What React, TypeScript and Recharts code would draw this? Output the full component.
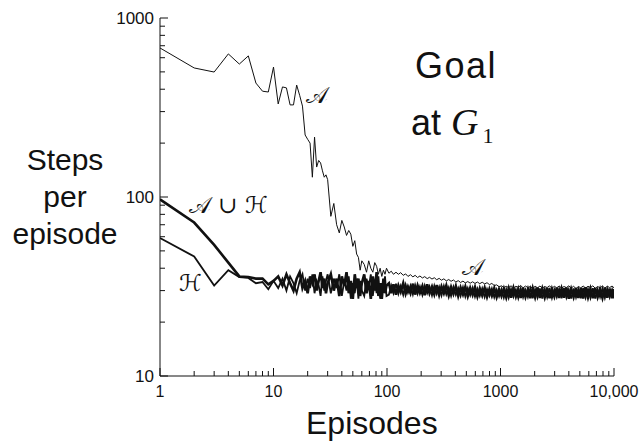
import React from 'react';
import { LineChart, Line, XAxis, YAxis } from 'recharts';

// episode numbers shared by the three curves
const episodes = [
  1, 2, 3, 4, 5, 6, 7, 8, 9, 10,
  11, 12, 13, 14, 15, 16, 17, 18, 19, 20,
  21, 22, 23, 24, 25, 26, 27, 28, 29, 30,
  32, 34, 36, 38, 40, 42, 44, 46, 48, 50, 52, 54, 56, 58, 60,
  63, 66, 69, 72, 75, 78, 81, 84, 87, 90, 93, 96, 99,
  104, 109, 114, 120, 126, 132, 139, 146, 153, 161,
  169, 177, 186, 195, 205, 215, 226, 237, 249, 261,
  274, 288, 302, 317, 333, 350, 367, 385, 404, 424,
  445, 467, 490, 515, 541, 568, 596, 626, 657, 690,
  725, 761, 799, 839, 881, 925, 971, 1020, 1070, 1124,
  1180, 1239, 1301, 1366, 1434, 1506, 1581, 1660, 1743, 1830,
  1922, 2018, 2119, 2225, 2336, 2453, 2576, 2705, 2840, 2982,
  3131, 3288, 3452, 3625, 3806, 3996, 4196, 4406, 4626, 4857,
  5100, 5355, 5623, 5904, 6199, 6509, 6834, 7176, 7535, 7912,
  8308, 8723, 9159, 9617, 10000,
];

// A
const stepsA = [
  680, 526, 499, 630, 553, 614, 433, 390, 386, 532,
  331, 412, 407, 327, 327, 422, 370, 322, 222, 210,
  200, 129, 216, 147, 160, 155, 140, 129, 133, 125,
  78, 92, 70, 63, 74, 68, 61, 65, 62, 53, 57, 48, 46, 39, 44,
  42, 38, 44, 40, 38, 43, 41, 37, 40, 36, 39, 37, 40,
  37.5, 38.5, 37, 38, 37, 37.8, 36.5, 37.2, 36, 36.8,
  35.8, 36.5, 35.5, 36.2, 35.3, 35.9, 35, 35.6, 34.8, 35.4,
  34.5, 35.1, 34.3, 34.9, 34, 34.6, 33.8, 34.4, 33.5, 34.1,
  33.3, 33.9, 33.1, 33.7, 33, 33.6, 32.9, 33.5, 32.8, 33.4,
  32.7, 33.2, 32.4, 32.9, 32, 32.3, 31.5, 31.9, 31.2, 31.7,
  31.2, 31.9, 31.0, 31.7, 31.3, 32.0, 31.1, 31.8, 31.2, 31.6,
  30.9, 31.7, 31.1, 31.8, 31.0, 31.6, 31.2, 31.9, 30.9, 31.7,
  31.1, 31.8, 31.0, 31.6, 31.2, 31.9, 31.0, 31.7, 30.8, 31.6,
  31.1, 31.8, 31.0, 31.7, 31.2, 31.9, 30.9, 31.6, 31.1, 31.8,
  31.0, 31.7, 31.2, 31.8, 31.1,
];

// A u H
const stepsAH = [
  97, 72, 54, 43, 36, 35.7, 35, 35, 32.5, 34,
  36, 32, 37, 33, 30, 35, 38, 31, 34, 29,
  36, 33, 37, 30, 34, 38, 31, 35, 29, 33,
  37, 30, 35, 28, 36, 32, 38, 29, 34, 27, 37, 31, 35, 28, 33,
  37, 29, 34, 27, 36, 30, 38, 28, 33, 27, 35, 29, 32,
  33, 29, 32.5, 28.5, 32, 29.5, 33, 28.8, 31.5, 29,
  32.8, 28.5, 32, 29.2, 31.8, 28.3, 32.5, 29, 31.5, 28.6,
  32.2, 28.4, 31.6, 29, 32, 28.2, 31.4, 28.8, 31.8, 28,
  31.2, 28.6, 31.5, 27.9, 31, 28.4, 31.3, 27.8, 30.8, 28.2,
  31.1, 27.7, 30.6, 28.1, 30.9, 27.6, 30.5, 28, 30.7, 27.5,
  30.8, 27.4, 31, 27.8, 30.6, 27.3, 31.1, 27.7, 30.5, 27.2,
  30.9, 27.6, 31.2, 27.3, 30.7, 27.5, 31, 27.2, 30.6, 27.8,
  31.1, 27.3, 30.8, 27.4, 31.2, 27, 30.6, 27.6, 31, 27.3,
  30.9, 27.1, 31.3, 27.5, 30.7, 27.2, 31, 27.6, 30.5, 27.3,
  31.1, 27.4, 30.8, 27.2, 30.6,
];

// H
const stepsH = [
  59, 46.5, 32, 39, 35.7, 35.3, 33, 33.5, 30.5, 34,
  31, 35, 30, 36, 33, 29, 34, 37, 30, 35,
  31, 37, 29, 34, 32, 28, 36, 30, 34, 37,
  29, 35, 31, 37, 28, 34, 30, 36, 27, 33, 29, 35, 27, 34, 30,
  28, 35, 31, 37, 28, 34, 29, 36, 27, 33, 30, 36, 28,
  28.5, 32, 29, 32.8, 28.8, 31.8, 28.4, 32.4, 29.2, 32,
  28.6, 32.2, 28.8, 31.6, 28.3, 32, 29, 31.6, 28.2, 31.9,
  28.7, 31.5, 28.2, 31.8, 28.5, 31.2, 28, 31.5, 28.4, 31,
  28, 31.3, 27.8, 30.9, 28.2, 31.1, 27.7, 30.7, 28, 30.9,
  27.6, 30.6, 28, 30.8, 27.5, 30.4, 27.8, 30.6, 27.4, 30.5,
  27.3, 30.6, 27.7, 30.4, 27.2, 30.8, 27.5, 30.3, 27.6, 30.9,
  27.2, 30.5, 27.4, 30.8, 27.1, 30.6, 27.5, 31, 27.3, 30.4,
  27.6, 30.7, 27.2, 30.9, 27.4, 30.5, 27.1, 30.8, 27.5, 30.6,
  27.2, 31, 27.4, 30.6, 27.3, 30.9, 27.1, 30.5, 27.6, 30.8,
  27.3, 30.7, 27.5, 30.4, 27.2,
];

const xMajor = [1, 10, 100, 1000, 10000];
const xMajorLabels = ['1', '10', '100', '1000', '10,000'];
const yMajor = [10, 100, 1000];
const yMajorLabels = ['10', '100', '1000'];
const multiples = [2, 3, 4, 5, 6, 7, 8, 9];

const xTicks = [...xMajor, ...xMajor.slice(0, -1).flatMap((d) => multiples.map((m) => m * d))];
const yTicks = [...yMajor, ...yMajor.slice(0, -1).flatMap((d) => multiples.map((m) => m * d))];

const data = episodes.map((ep, i) => ({
  ep,
  a: stepsA[i],
  ah: stepsAH[i],
  h: stepsH[i],
}));

const sans = '"Liberation Sans", Arial, Helvetica, sans-serif';
const ink = '#111';

// ticks point into the plot, labels only on decades
const XTick = (props: any) => {
  const { x, y, payload } = props;
  const idx = xMajor.indexOf(payload.value);
  const len = idx >= 0 ? 8 : 5;
  return (
    <g>
      <line x1={x} y1={y} x2={x} y2={y - len} stroke={ink} strokeWidth={1} />
      {idx >= 0 && (
        <text x={x} y={y + 21} textAnchor="middle" fontSize={16} fontFamily={sans} fill={ink}>
          {xMajorLabels[idx]}
        </text>
      )}
    </g>
  );
};

const YTick = (props: any) => {
  const { x, y, payload } = props;
  const idx = yMajor.indexOf(payload.value);
  const len = idx >= 0 ? 8 : 5;
  return (
    <g>
      <line x1={x} y1={y} x2={x + len} y2={y} stroke={ink} strokeWidth={1} />
      {idx >= 0 && (
        <text x={x - 6} y={y + 6} textAnchor="end" fontSize={17} fontFamily={sans} fill={ink}>
          {yMajorLabels[idx]}
        </text>
      )}
    </g>
  );
};

const abs = (left: number, top: number, style: React.CSSProperties = {}): React.CSSProperties => ({
  position: 'absolute',
  left,
  top,
  whiteSpace: 'nowrap',
  color: ink,
  lineHeight: 1,
  ...style,
});

const script = '"DejaVu Serif", "DejaVu Sans", serif';

export default function App() {
  return (
    <div style={{ position: 'absolute', left: 0, top: 0, width: 644, height: 442, background: '#fff', overflow: 'hidden' }}>
      <LineChart width={644} height={442} data={data} margin={{ top: 18, right: 30, bottom: 0, left: 0 }}>
        <XAxis
          dataKey="ep"
          type="number"
          scale="log"
          domain={[1, 10000]}
          ticks={xTicks}
          interval={0}
          height={66}
          tickSize={0}
          tickMargin={0}
          tickLine={false}
          tick={XTick}
          axisLine={{ stroke: ink, strokeWidth: 1 }}
          allowDataOverflow
        />
        <YAxis
          type="number"
          scale="log"
          domain={[10, 1000]}
          ticks={yTicks}
          interval={0}
          width={160}
          tickSize={0}
          tickMargin={0}
          tickLine={false}
          tick={YTick}
          axisLine={{ stroke: ink, strokeWidth: 1 }}
          allowDataOverflow
        />
        <Line dataKey="a" stroke={ink} strokeWidth={1} dot={false} isAnimationActive={false} />
        <Line dataKey="h" stroke={ink} strokeWidth={1.8} dot={false} isAnimationActive={false} />
        <Line dataKey="ah" stroke={ink} strokeWidth={2.6} dot={false} isAnimationActive={false} />
      </LineChart>

      <div style={abs(0, 141, { width: 130, textAlign: 'center', fontFamily: sans, fontSize: 30, lineHeight: '37px' })}>
        Steps<br />per<br />episode
      </div>
      <div style={abs(306, 407, { fontFamily: sans, fontSize: 32 })}>Episodes</div>
      <div style={abs(415, 48, { fontFamily: sans, fontSize: 36, letterSpacing: 1.5 })}>Goal</div>
      <div style={abs(411, 103, { fontFamily: sans, fontSize: 36 })}>
        at{' '}
        <span style={{ fontFamily: '"Liberation Serif", "Times New Roman", serif', fontStyle: 'italic', fontSize: 38 }}>G</span>
        <span style={{ fontFamily: '"Liberation Serif", serif', fontSize: 22, position: 'relative', top: 8, marginLeft: 4 }}>1</span>
      </div>

      <div style={abs(306, 84, { fontFamily: script, fontSize: 23 })}>𝒜</div>
      <div style={abs(189, 194, { fontFamily: script, fontSize: 23 })}>𝒜 ∪ ℋ</div>
      <div style={abs(179, 272, { fontFamily: script, fontSize: 23 })}>ℋ</div>
      <div style={abs(462, 256, { fontFamily: script, fontSize: 23 })}>𝒜</div>
    </div>
  );
}
